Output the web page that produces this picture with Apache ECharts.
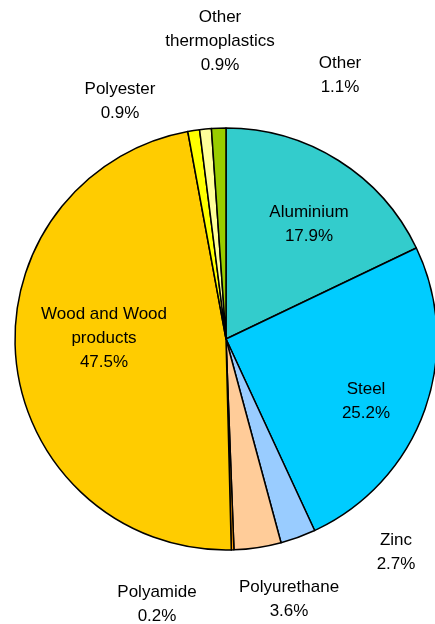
<!DOCTYPE html>
<html><head><meta charset="utf-8">
<script src="https://cdn.jsdelivr.net/npm/echarts@6/dist/echarts.min.js"></script>
<style>html,body{margin:0;padding:0;background:#fff}#c{width:435px;height:624px}</style>
</head><body><div id="c"></div>
<script>
const categories = ['Aluminium','Steel','Zinc','Polyurethane','Polyamide','Wood and Wood\nproducts','Polyester','Other\nthermoplastics','Other'];
const values = [17.9, 25.2, 2.7, 3.6, 0.2, 47.5, 0.9, 0.9, 1.1];
const colors = ['#33CCCC','#00CCFF','#99CCFF','#FFCC99','#FF9900','#FFCC00','#FFFF00','#FFFF99','#99CC00'];
// label centre positions (layout only)
const labelPos = [[309,224],[366,401],[396,552],[289,599],[157,604],[104,338],[120,101],[220,41],[340,75]];

const chart = echarts.init(document.getElementById('c'), null, {renderer:'canvas'});
chart.setOption({
  animation:false,
  series:[{
    type:'pie',
    center:[226,339],
    radius:211,
    startAngle:90,
    clockwise:true,
    avoidLabelOverlap:false,
    data: categories.map((n,i)=>({name:n,value:values[i],itemStyle:{color:colors[i]}})),
    itemStyle:{borderColor:'#000',borderWidth:1.5},
    label:{show:true,position:'inside',formatter:p=>p.name+'\n'+p.value.toFixed(1)+'%',
      fontFamily:'Liberation Sans, Arial, sans-serif',fontSize:17,color:'#000',lineHeight:24,align:'center'},
    labelLine:{show:false},
    labelLayout:function(p){const q=labelPos[p.dataIndex];return {x:q[0],y:q[1],align:'center',verticalAlign:'middle'};},
    emphasis:{disabled:true}
  }]
});
</script></body></html>
